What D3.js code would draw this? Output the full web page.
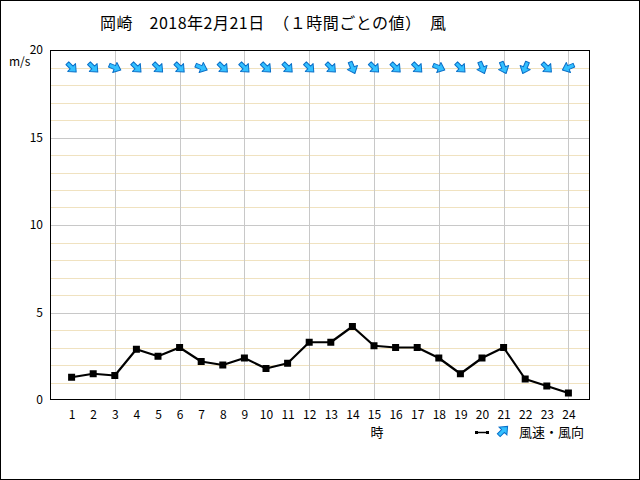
<!DOCTYPE html>
<html>
<head>
<meta charset="utf-8">
<script src="https://cdn.jsdelivr.net/npm/d3@7"></script>
<style>
html,body{margin:0;padding:0;background:#fff;}
svg{display:block;}
text{font-family:"Noto Sans CJK JP","Noto Sans",sans-serif;fill:#000;}
</style>
</head>
<body>
<svg id="chart" width="640" height="480"></svg>
<script>
// ---- data ----
const hours = [1,2,3,4,5,6,7,8,9,10,11,12,13,14,15,16,17,18,19,20,21,22,23,24];
const windSpeed = [1.3,1.5,1.4,2.9,2.5,3.0,2.2,2.0,2.4,1.8,2.1,3.3,3.3,4.2,3.1,3.0,3.0,2.4,1.5,2.4,3.0,1.2,0.8,0.4];
const windDir = ["北西","北西","西北西","北西","北西","北西","西北西","北西","北西","北西","北西","北西","北西","北北西","北西","北西","北西","西北西","北西","北北西","北北西","北北東","北西","東北東"];
const yTicks = [0,5,10,15,20];
const titleText = "岡崎　2018年2月21日　（１時間ごとの値）　風";
const yUnit = "m/s";
const xUnit = "時";
const legendText = "風速・風向";

const compass = {"北":0,"北北東":22.5,"北東":45,"東北東":67.5,"東":90,"東南東":112.5,"南東":135,"南南東":157.5,
  "南":180,"南南西":202.5,"南西":225,"西南西":247.5,"西":270,"西北西":292.5,"北西":315,"北北西":337.5};

const svg = d3.select("#chart");
const W = 640, H = 480;
const m = {left:50, top:50, right:590, bottom:400};

// outer frame
svg.append("rect").attr("x",0.5).attr("y",0.5).attr("width",W-1).attr("height",H-1)
  .attr("fill","#fff").attr("stroke","#000");

const x = d3.scaleLinear().domain([0,25]).range([m.left, m.right]);
const y = d3.scaleLinear().domain([0,20]).range([m.bottom, m.top]);

// plot bg
svg.append("rect").attr("x",m.left).attr("y",m.top).attr("width",m.right-m.left).attr("height",m.bottom-m.top).attr("fill","#fff");

// minor horizontal grid
const minor = d3.range(1,20).filter(v => v % 5 !== 0);
svg.append("g").selectAll("line").data(minor).join("line")
  .attr("x1",m.left).attr("x2",m.right)
  .attr("y1",d=>Math.round(y(d))+0.5).attr("y2",d=>Math.round(y(d))+0.5)
  .attr("stroke","#f0e2c0").attr("stroke-width",1);
// major horizontal grid
svg.append("g").selectAll("line").data([5,10,15]).join("line")
  .attr("x1",m.left).attr("x2",m.right)
  .attr("y1",d=>Math.round(y(d))+0.5).attr("y2",d=>Math.round(y(d))+0.5)
  .attr("stroke","#c8c8c8").attr("stroke-width",1);
// vertical grid every 3 hours
svg.append("g").selectAll("line").data(hours.filter(h=>h%3===0)).join("line")
  .attr("x1",d=>Math.round(x(d))+0.5).attr("x2",d=>Math.round(x(d))+0.5)
  .attr("y1",m.top).attr("y2",m.bottom)
  .attr("stroke","#c8c8c8").attr("stroke-width",1);

// plot border
svg.append("rect").attr("x",m.left+0.5).attr("y",m.top+0.5)
  .attr("width",m.right-m.left-1).attr("height",m.bottom-m.top-1)
  .attr("fill","none").attr("stroke","#000");

// y axis labels
const yAxis = d3.axisLeft(y).tickValues(yTicks).tickSize(0).tickPadding(7);
const gy = svg.append("g").attr("transform",`translate(${m.left},0)`).call(yAxis);
gy.select(".domain").remove();
gy.selectAll("text").attr("font-size",12).attr("font-family",'"Noto Sans CJK JP",sans-serif').attr("dy","0.3em");

svg.append("text").attr("x",9).attr("y",66).attr("font-size",12).text(yUnit);

// x axis labels
const xAxis = d3.axisBottom(x).tickValues(hours).tickSize(0).tickPadding(10);
const gx = svg.append("g").attr("transform",`translate(0,${m.bottom})`).call(xAxis);
gx.select(".domain").remove();
gx.selectAll("text").attr("font-size",12).attr("font-family",'"Noto Sans CJK JP",sans-serif');

svg.append("text").attr("x",x(15)+3).attr("y",437).attr("text-anchor","middle").attr("font-size",13).text(xUnit);

// title
svg.append("text").attr("x",100).attr("y",29).attr("font-size",16).attr("letter-spacing",0.5).text(titleText);

// line
const line = d3.line().x((d,i)=>x(hours[i])).y(d=>y(d));
svg.append("path").datum(windSpeed).attr("d",line).attr("fill","none")
  .attr("stroke","#000").attr("stroke-width",2.2).attr("stroke-linejoin","round");
svg.append("g").selectAll("rect").data(windSpeed).join("rect")
  .attr("x",(d,i)=>x(hours[i])-3.5).attr("y",d=>y(d)-3.5)
  .attr("width",7).attr("height",7).attr("fill","#000");

// arrows
const arrowPath = "M-6,-2 L0,-2 L0,-5.5 L6.5,0 L0,5.5 L0,2 L-6,2 Z";
svg.append("g").selectAll("path").data(windDir).join("path")
  .attr("d",arrowPath)
  .attr("transform",(d,i)=>`translate(${x(hours[i])},${y(19)}) rotate(${compass[d]+180-90})`)
  .attr("fill","#33c0ff").attr("stroke","#0a6fc8").attr("stroke-width",1).attr("stroke-linejoin","round");

// legend
const lg = svg.append("g");
lg.append("line").attr("x1",476).attr("x2",488).attr("y1",432.5).attr("y2",432.5).attr("stroke","#000").attr("stroke-width",1.5);
lg.append("rect").attr("x",475).attr("y",431).attr("width",3).attr("height",3).attr("fill","#000");
lg.append("rect").attr("x",486).attr("y",431).attr("width",3).attr("height",3).attr("fill","#000");
lg.append("path").attr("d",arrowPath)
  .attr("transform","translate(503,431) rotate(-45)")
  .attr("fill","#33c0ff").attr("stroke","#0a6fc8").attr("stroke-width",1);
lg.append("text").attr("x",519).attr("y",437).attr("font-size",13).text(legendText);
</script>
</body>
</html>
